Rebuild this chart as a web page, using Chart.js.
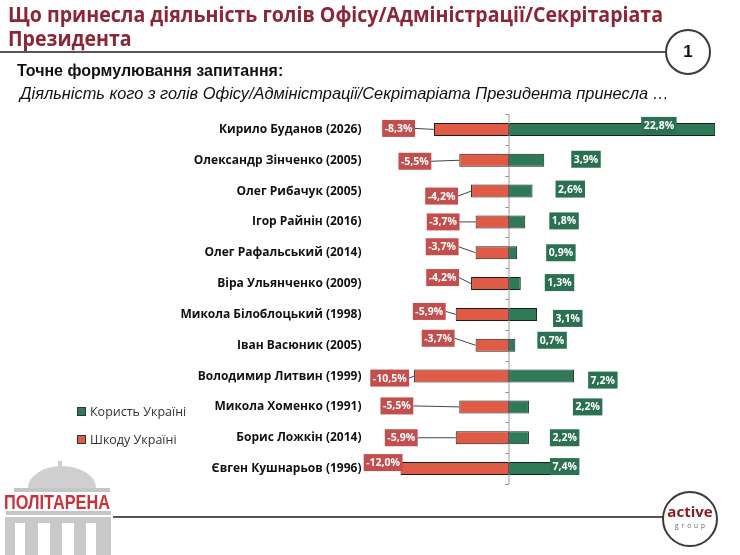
<!DOCTYPE html>
<html>
<head>
<meta charset="utf-8">
<script src="https://cdn.jsdelivr.net/npm/chart.js@4.4.1/dist/chart.umd.min.js"></script>
<style>
  html, body { margin: 0; padding: 0; background: #fff; }
  #page { position: relative; width: 740px; height: 555px; overflow: hidden; }
  #chartBox { position: absolute; left: 0; top: 0; width: 740px; height: 555px; }
  .title { position: absolute; left: 8px; top: 2px; font-family: "Open Sans", sans-serif;
           font-weight: bold; font-size: 21px; line-height: 24px; color: #8c2634; white-space: nowrap; }
  .title span { display: block; transform-origin: 0 50%; }
  .q1 { position: absolute; left: 17px; top: 62px; font-family: "Liberation Sans", Arial, sans-serif; font-weight: bold;
        font-size: 16px; color: #111; white-space: nowrap; }
  .q2 { position: absolute; left: 20px; top: 84px; font-family: "Liberation Sans", Arial, sans-serif; font-style: italic;
        font-size: 16.4px; color: #111; white-space: nowrap; }
  .rule { position: absolute; height: 2px; background: #555; }
  .circ { position: absolute; border: 2px solid #3a3a3a; border-radius: 50%; background: #fff; box-sizing: border-box; }
  #legend { position: absolute; left: 77px; top: 402px; font-family: "Open Sans", sans-serif; font-size: 12.5px; color: #333; }
  #legend div { height: 28px; line-height: 20px; white-space: nowrap; }
  #legend span.sw { display: inline-block; width: 9px; height: 9px; margin-right: 4px; border: 1px solid #333; box-sizing: border-box; }
</style>
</head>
<body>
<div id="page">
  <div id="chartBox"><canvas id="chart"></canvas></div>

  <div class="title"><span id="t1">Що принесла діяльність голів Офісу/Адміністрації/Секрітаріата</span><span id="t2">Президента</span></div>
  <div class="rule" style="left:0; top:51px; width:668px;"></div>
  <div class="circ" style="left:665px; top:29px; width:46px; height:46px;"></div>
  <div style="position:absolute; left:665px; top:29px; width:46px; height:46px; line-height:46px; text-align:center;
              font-family:'Liberation Sans',Arial,sans-serif; font-weight:bold; font-size:17px; color:#111;">1</div>

  <div class="q1">Точне формулювання запитання:</div>
  <div class="q2">Діяльність кого з голів Офісу/Адміністрації/Секрітаріата Президента принесла …</div>

  <div id="legend"></div>

  <div class="rule" style="left:113px; top:516px; width:552px;"></div>
  <div class="circ" style="left:662px; top:491px; width:56px; height:56px;"></div>
  <div style="position:absolute; left:662px; top:503px; width:56px; text-align:center; font-family:'Open Sans',sans-serif;
              font-weight:bold; font-size:15px; line-height:17px; color:#8b1c22;">active</div>
  <div style="position:absolute; left:662px; top:521px; width:56px; text-align:center; font-family:'Open Sans',sans-serif;
              font-size:6.5px; letter-spacing:3px; color:#666; padding-left:3px; box-sizing:border-box;">group</div>

  <svg style="position:absolute; left:0; top:455px;" width="115" height="100" viewBox="0 0 115 100">
    <path d="M28 33 A 34 22 0 0 1 96 33 Z" fill="#cfcfcf"/>
    <rect x="58" y="6" width="4" height="6" fill="#cfcfcf"/>
    <rect x="14" y="33" width="96" height="4" fill="#c6c6c6"/>
    <rect x="6" y="56" width="105" height="4" fill="#c6c6c6"/>
    <rect x="5" y="62" width="106" height="38" fill="#c9c9c9"/>
    <rect x="15" y="68" width="10" height="32" fill="#fff"/>
    <rect x="38" y="68" width="12" height="32" fill="#fff"/>
    <rect x="62" y="68" width="12" height="32" fill="#fff"/>
    <rect x="86" y="68" width="10" height="32" fill="#fff"/>
    <text x="57" y="54" text-anchor="middle" font-family="Liberation Sans Narrow, Liberation Sans, sans-serif"
          font-weight="bold" font-size="20" fill="#c8323c" textLength="106" lengthAdjust="spacingAndGlyphs">ПОЛІТАРЕНА</text>
  </svg>
</div>

<script>
// data
const names = [
  'Кирило Буданов (2026)', 'Олександр Зінченко (2005)', 'Олег Рибачук (2005)', 'Ігор Райнін (2016)',
  'Олег Рафальський (2014)', 'Віра Ульянченко (2009)', 'Микола Білоблоцький (1998)', 'Іван Васюник (2005)',
  'Володимир Литвин (1999)', 'Микола Хоменко (1991)', 'Борис Ложкін (2014)', 'Євген Кушнарьов (1996)'
];
const benefit = [22.8, 3.9, 2.6, 1.8, 0.9, 1.3, 3.1, 0.7, 7.2, 2.2, 2.2, 7.4];
const harm = [-8.3, -5.5, -4.2, -3.7, -3.7, -4.2, -5.9, -3.7, -10.5, -5.5, -5.9, -12.0];
const seriesNames = ['Користь Україні', 'Шкоду Україні'];

// label placement, px relative to bar end (as the labels were dragged in the original)
const harmLabelDx = [-19, -28, -13, -16, -17, -12, -10, -21, -5, -46, -38, 2];
const harmLabelDy = [-1, 1, 5, 0, -6, -6, -3, -7, 2, -1, 0, -6];
const benefitLabelDx = [-74, 27, 23, 24, 29, 24, 16, 22, 14, 44, 21, -26];
const benefitLabelDy = [-4, -1, -2, -1, 0, -1, 4, -5, 4, 0, 0, -2];

const GREEN = '#2e7a56', GREEN_LBL = '#2b7151';
const RED = '#e05b46', RED_LBL = '#c24f4d';

const fmt = v => v.toFixed(1).replace('.', ',') + '%';

// squeeze the title to the width it has in the original (Calibri there)
const t1 = document.getElementById('t1'), t2 = document.getElementById('t2');
const sx = 655 / t1.getBoundingClientRect().width;
t1.style.transform = t2.style.transform = 'scaleX(' + sx + ')';

const labelPlugin = {
  id: 'barLabels',
  afterDatasetsDraw(chart) {
    const ctx = chart.ctx;
    const x = chart.scales.x, area = chart.chartArea;
    const zero = x.getPixelForValue(0);
    const n = names.length, step = (area.bottom - area.top) / n;

    // centre axis with small ticks between rows
    ctx.save();
    ctx.strokeStyle = '#9a9a9a';
    ctx.lineWidth = 1;
    ctx.beginPath();
    ctx.moveTo(zero, area.top);
    ctx.lineTo(zero, area.bottom);
    for (let k = 0; k <= n; k++) {
      const y = Math.round(area.top + k * step) + 0.5;
      ctx.moveTo(zero - 4, y);
      ctx.lineTo(zero, y);
    }
    ctx.stroke();

    ctx.font = 'bold 10.5px "Open Sans", sans-serif';
    ctx.textBaseline = 'middle';
    ctx.textAlign = 'center';
    const h = 17;

    chart.data.datasets.forEach((ds, di) => {
      const meta = chart.getDatasetMeta(di);
      meta.data.forEach((el, i) => {
        const txt = fmt(ds.data[i]);
        const w = ctx.measureText(txt).width + 5;
        let left, cy;
        if (ds.data[i] < 0) {
          const right = el.x + harmLabelDx[i];
          left = right - w;
          cy = el.y + harmLabelDy[i];
          if (el.x - right > 4) {
            ctx.strokeStyle = '#444';
            ctx.beginPath();
            ctx.moveTo(right, cy);
            ctx.lineTo(el.x, el.y);
            ctx.stroke();
          }
          ctx.fillStyle = RED_LBL;
        } else {
          left = el.x + benefitLabelDx[i];
          cy = el.y + benefitLabelDy[i];
          ctx.fillStyle = GREEN_LBL;
        }
        ctx.fillRect(left, cy - h / 2, w, h);
        ctx.fillStyle = '#fff';
        ctx.fillText(txt, left + w / 2, cy + 0.5);
      });
    });
    ctx.restore();
  }
};

const chart = new Chart(document.getElementById('chart'), {
  type: 'bar',
  data: {
    labels: names,
    datasets: [{
      label: seriesNames[0],
      data: benefit,
      backgroundColor: GREEN,
      borderColor: '#1c1c1c',
      borderWidth: 1,
      borderSkipped: false,
      barPercentage: 0.42,
      categoryPercentage: 1
    }, {
      label: seriesNames[1],
      data: harm,
      backgroundColor: RED,
      borderColor: '#1c1c1c',
      borderWidth: 1,
      borderSkipped: false,
      barPercentage: 0.42,
      categoryPercentage: 1
    }]
  },
  options: {
    indexAxis: 'y',
    responsive: true,
    maintainAspectRatio: false,
    animation: false,
    layout: { padding: { top: 114, bottom: 71, right: 14, left: 0 } },
    plugins: { legend: { display: false }, tooltip: { enabled: false } },
    scales: {
      x: { stacked: true, display: false, min: -13, max: 24 },
      y: {
        stacked: true,
        grid: { display: false, drawTicks: false },
        border: { display: false },
        ticks: { padding: 30, color: '#111', font: { family: '"Open Sans", sans-serif', weight: 'bold', size: 12 } },
        afterFit(scale) { scale.width = 391.5; }
      }
    }
  },
  plugins: [labelPlugin]
});

// legend built from the datasets
document.getElementById('legend').innerHTML = chart.data.datasets.map(ds =>
  '<div><span class="sw" style="background:' + ds.backgroundColor + '"></span>' + ds.label + '</div>').join('');
</script>
</body>
</html>
